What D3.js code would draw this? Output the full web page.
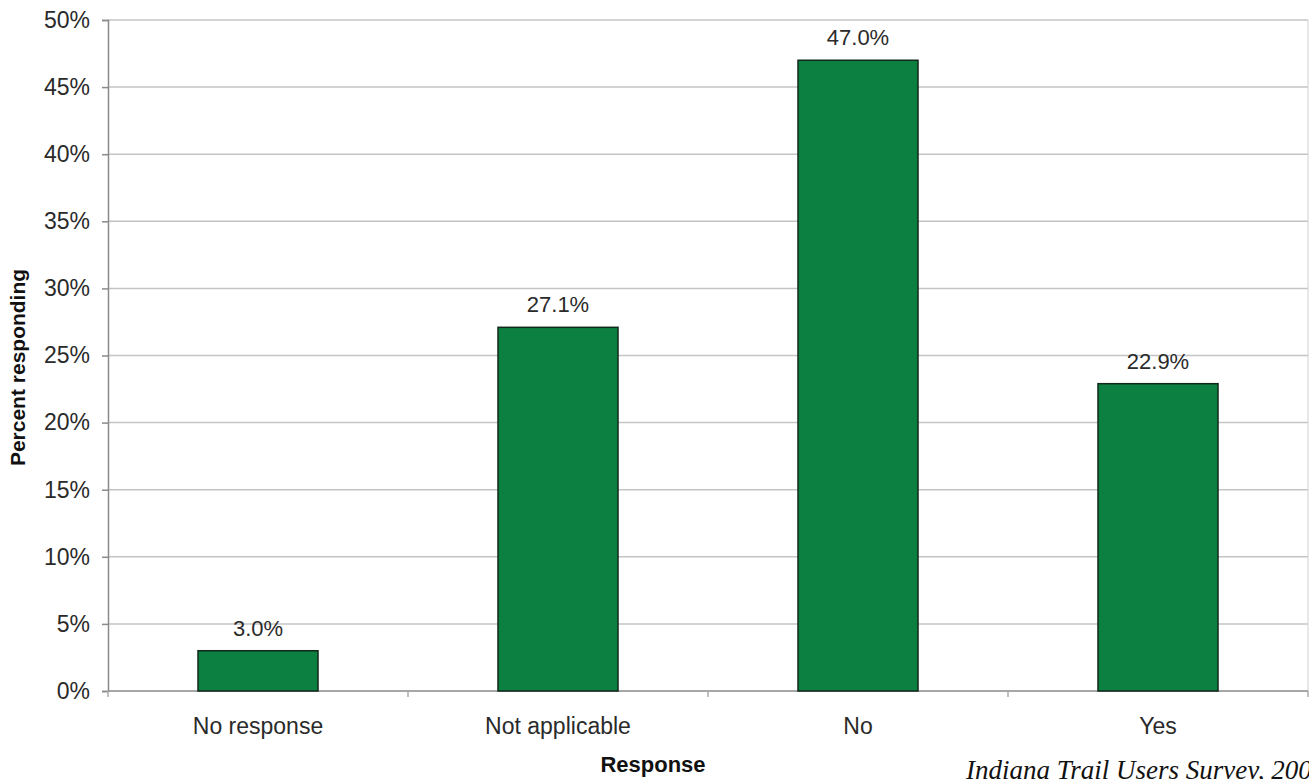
<!DOCTYPE html>
<html>
<head>
<meta charset="utf-8">
<script src="https://cdn.jsdelivr.net/npm/d3@7"></script>
<style>
  body { margin: 0; background: #fff; }
</style>
</head>
<body>
<div id="chart"></div>
<script>
// chart data
const categories = ["No response", "Not applicable", "No", "Yes"];
const percents = [3.0, 27.1, 47.0, 22.9];
const yTicks = [0, 5, 10, 15, 20, 25, 30, 35, 40, 45, 50];

const width = 1309, height = 779;
const margin = { top: 20, right: 1, bottom: 88, left: 108 };
const innerWidth = width - margin.left - margin.right;
const innerHeight = height - margin.top - margin.bottom;
const sans = "Liberation Sans, Arial, sans-serif";
const textColor = "#2a2a2a";

const svg = d3.select("#chart").append("svg")
  .attr("width", width)
  .attr("height", height)
  .attr("font-family", sans);

const g = svg.append("g")
  .attr("transform", `translate(${margin.left},${margin.top})`);

const x = d3.scaleBand().domain(categories).range([0, innerWidth]).paddingInner(0.6).paddingOuter(0.3);
const xBoundaries = d3.scaleLinear().domain([0, categories.length]).range([0, innerWidth]);
const y = d3.scaleLinear().domain([0, 50]).range([innerHeight, 0]);

// gridlines
g.selectAll(".grid").data(yTicks.filter(d => d > 0))
  .enter().append("line")
  .attr("x1", 0).attr("x2", innerWidth)
  .attr("y1", d => y(d)).attr("y2", d => y(d))
  .attr("stroke", "#c4c4c4").attr("stroke-width", 1.5);

// right border of plot
g.append("line")
  .attr("x1", innerWidth).attr("x2", innerWidth)
  .attr("y1", 0).attr("y2", innerHeight)
  .attr("stroke", "#d0d0d0").attr("stroke-width", 1);

// y axis
const yAxis = g.append("g")
  .call(d3.axisLeft(y).tickValues(yTicks).tickFormat(d => d + "%").tickSize(6).tickPadding(12));
yAxis.select(".domain").attr("stroke", "#8a8a8a").attr("stroke-width", 1.5);
yAxis.selectAll(".tick line").attr("stroke", "#8a8a8a").attr("stroke-width", 1.5);
yAxis.selectAll("text").attr("font-size", 23).attr("fill", textColor)
  .attr("font-family", sans);

// x axis baseline + category separator ticks
g.append("line")
  .attr("x1", 0).attr("x2", innerWidth)
  .attr("y1", innerHeight).attr("y2", innerHeight)
  .attr("stroke", "#8a8a8a").attr("stroke-width", 1.5);
g.selectAll(".xtick").data(d3.range(0, categories.length + 1))
  .enter().append("line")
  .attr("x1", d => xBoundaries(d)).attr("x2", d => xBoundaries(d))
  .attr("y1", innerHeight).attr("y2", innerHeight + 6)
  .attr("stroke", "#aaa").attr("stroke-width", 1.5);

// category labels
g.selectAll(".xlabel").data(categories)
  .enter().append("text")
  .attr("x", d => x(d) + x.bandwidth() / 2)
  .attr("y", innerHeight + 43)
  .attr("text-anchor", "middle")
  .attr("font-size", 23)
  .attr("fill", textColor)
  .text(d => d);

// bars
const bars = categories.map((c, i) => ({ cat: c, value: percents[i] }));
g.selectAll(".bar").data(bars)
  .enter().append("rect")
  .attr("x", d => x(d.cat))
  .attr("y", d => y(d.value))
  .attr("width", x.bandwidth())
  .attr("height", d => innerHeight - y(d.value))
  .attr("fill", "#0b8040")
  .attr("stroke", "#10291a")
  .attr("stroke-width", 1.5);

// value labels
g.selectAll(".val").data(bars)
  .enter().append("text")
  .attr("x", d => x(d.cat) + x.bandwidth() / 2)
  .attr("y", d => y(d.value) - 15)
  .attr("text-anchor", "middle")
  .attr("font-size", 22)
  .attr("fill", textColor)
  .text(d => d.value.toFixed(1) + "%");

// axis titles
svg.append("text")
  .attr("transform", `translate(25,${margin.top + innerHeight / 2 + 12}) rotate(-90)`)
  .attr("text-anchor", "middle")
  .attr("font-size", 21)
  .attr("font-weight", "bold")
  .attr("fill", "#111")
  .text("Percent responding");

svg.append("text")
  .attr("x", 653)
  .attr("y", 772)
  .attr("text-anchor", "middle")
  .attr("font-size", 22)
  .attr("font-weight", "bold")
  .attr("fill", "#111")
  .text("Response");

// source note (runs past the right edge, as in the original)
svg.append("text")
  .attr("x", 966)
  .attr("y", 779)
  .attr("font-family", "Liberation Serif, Times New Roman, serif")
  .attr("font-style", "italic")
  .attr("font-size", 27)
  .attr("fill", "#111")
  .text("Indiana Trail Users Survey, 2009");
</script>
</body>
</html>
